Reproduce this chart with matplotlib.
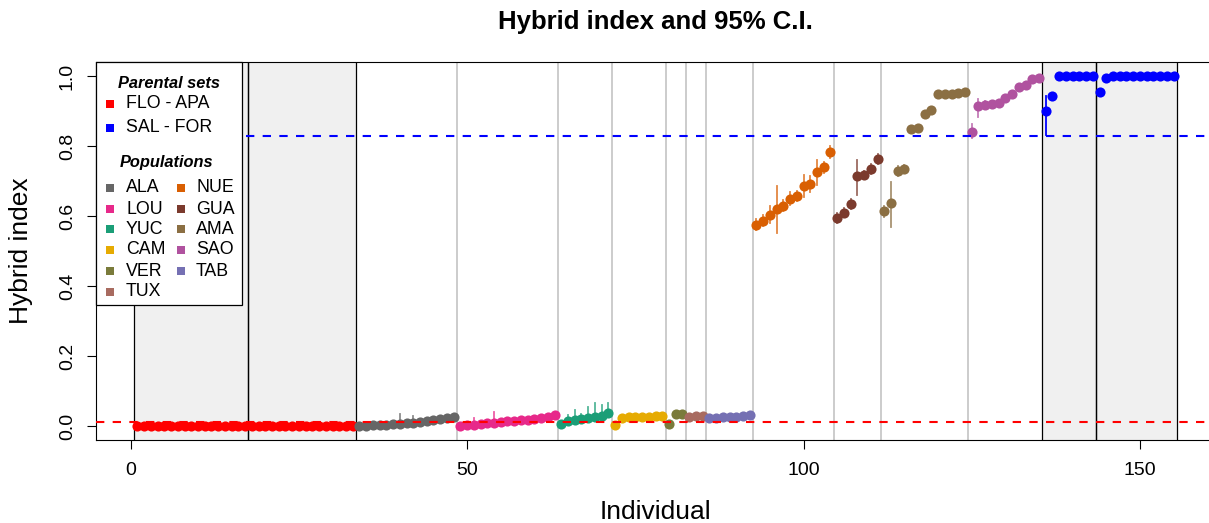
"""Hybrid index per individual with 95% C.I., parental sets and populations."""

import matplotlib
matplotlib.use('Agg')
import matplotlib.pyplot as plt
import numpy as np
from matplotlib.patches import Rectangle

plt.rcParams['font.family'] = ['Liberation Sans', 'DejaVu Sans']

# Parental sets (left block and right block)
flo_values = [0.000, 0.000, 0.000, 0.000, 0.000, 0.000, 0.000, 0.000, 0.000,
              0.000, 0.000, 0.000, 0.000, 0.000, 0.000, 0.000, 0.000]
apa_values = [0.000, 0.000, 0.000, 0.000, 0.000, 0.000, 0.000, 0.000,
              0.000, 0.000, 0.000, 0.000, 0.000, 0.000, 0.000, 0.000]
sal_values = [0.900, 0.944, 0.999, 0.999, 0.999, 0.999, 0.999, 0.999]
for_values = [0.953, 0.993, 0.999, 0.999, 0.999, 0.999, 0.999, 0.999,
              0.999, 0.999, 0.999, 0.999]

# Populations, in plotting order
ala_values = [0.000, 0.001, 0.002, 0.003, 0.004, 0.005, 0.006, 0.008,
              0.010, 0.012, 0.015, 0.017, 0.019, 0.022, 0.026]
lou_values = [0.001, 0.002, 0.004, 0.006, 0.008, 0.009, 0.011, 0.013,
              0.014, 0.016, 0.018, 0.021, 0.024, 0.027, 0.032]
yuc_values = [0.005, 0.013, 0.016, 0.019, 0.022, 0.025, 0.030, 0.037]
cam_values = [0.003, 0.024, 0.025, 0.026, 0.027, 0.027, 0.028, 0.029]
ver_values = [0.005, 0.033, 0.034]
tux_values = [0.027, 0.028, 0.030]
tab_values = [0.024, 0.024, 0.025, 0.026, 0.027, 0.030, 0.032]
nue_values = [0.575, 0.587, 0.604, 0.620, 0.630, 0.650, 0.657, 0.685,
              0.691, 0.727, 0.739, 0.783]
gua_values = [0.594, 0.608, 0.634, 0.713, 0.717, 0.734, 0.764]
ama_values = [0.613, 0.636, 0.729, 0.734, 0.848, 0.851, 0.891, 0.902,
              0.948, 0.949, 0.950, 0.951, 0.954]
sao_values = [0.841, 0.913, 0.917, 0.920, 0.924, 0.937, 0.950, 0.970,
              0.974, 0.991, 0.995]

pop_names = ['ALA', 'LOU', 'YUC', 'CAM', 'VER', 'TUX', 'TAB', 'NUE', 'GUA', 'AMA', 'SAO']
pop_values = [ala_values, lou_values, yuc_values, cam_values, ver_values, tux_values,
              tab_values, nue_values, gua_values, ama_values, sao_values]
pop_colors = {
    'ALA': '#666666', 'LOU': '#E7298A', 'YUC': '#1B9E77', 'CAM': '#E6AB02',
    'VER': '#7A7B3B', 'TUX': '#A86B60', 'NUE': '#D95F02', 'GUA': '#7B3A2D',
    'AMA': '#8B6F43', 'SAO': '#B0529F', 'TAB': '#7570B3',
}
legend_col1 = ['ALA', 'LOU', 'YUC', 'CAM', 'VER', 'TUX']
legend_col2 = ['NUE', 'GUA', 'AMA', 'SAO', 'TAB']

# 95% C.I. where wider than the point itself (individual -> (lower, upper))
ci_bounds = {
    40: (0.002, 0.034), 42: (0.004, 0.028),
    51: (0.002, 0.024), 54: (0.004, 0.041),
    65: (0.006, 0.031), 66: (0.008, 0.046), 67: (0.012, 0.034), 68: (0.014, 0.054),
    69: (0.016, 0.065), 70: (0.020, 0.060), 71: (0.026, 0.066),
    93: (0.560, 0.592), 94: (0.572, 0.603), 95: (0.580, 0.628), 96: (0.552, 0.685),
    97: (0.615, 0.645), 98: (0.632, 0.670), 99: (0.642, 0.672), 100: (0.653, 0.717),
    101: (0.668, 0.715), 102: (0.689, 0.760), 103: (0.724, 0.754), 104: (0.765, 0.800),
    105: (0.580, 0.610), 106: (0.596, 0.622), 107: (0.620, 0.648), 108: (0.660, 0.761),
    109: (0.705, 0.730), 110: (0.720, 0.748), 111: (0.750, 0.778),
    112: (0.598, 0.628), 113: (0.568, 0.696), 114: (0.715, 0.742), 115: (0.722, 0.745),
    125: (0.822, 0.862), 126: (0.884, 0.934), 127: (0.905, 0.930),
    136: (0.832, 0.943),
}

flo_apa_threshold = 0.012
sal_for_threshold = 0.829

red = '#FF0000'
blue = '#0000FF'

# Sequence of blocks along the x axis
blocks = ([('FLO', flo_values, red, 'parent'), ('APA', apa_values, red, 'parent')]
          + [(n, v, pop_colors[n], 'pop') for n, v in zip(pop_names, pop_values)]
          + [('SAL', sal_values, blue, 'parent'), ('FOR', for_values, blue, 'parent')])

fig = plt.figure(figsize=(12.09, 5.23), dpi=100)
ax = fig.add_axes([96 / 1209, 83 / 523, 1119 / 1209, 378 / 523])

start = 1
prev_kind = None
for name, values, color, kind in blocks:
    x = np.arange(start, start + len(values))
    left = start - 0.5
    right = start + len(values) - 0.5
    if kind == 'parent':
        ax.add_patch(Rectangle((left, -1), right - left, 3, facecolor='#F0F0F0',
                               edgecolor='none', zorder=0))
        ax.axvline(left, color='black', lw=0.9, zorder=1.5)
        ax.axvline(right, color='black', lw=0.9, zorder=1.5)
    elif prev_kind == 'pop':
        ax.axvline(left, color='#C8C8C8', lw=1.3, zorder=1)

    for xi in x:
        if xi in ci_bounds:
            lo, hi = ci_bounds[xi]
            ax.plot([xi, xi], [lo, hi], color=color, lw=1.3,
                    alpha=0.75 if kind == 'pop' else 1.0, zorder=2)
    ax.plot(x, values, 'o', color=color, markersize=7.3, markeredgewidth=0, zorder=3)

    start += len(values)
    prev_kind = kind

ax.axhline(flo_apa_threshold, color=red, lw=1.5, dashes=(4, 4), zorder=4)
ax.axhline(sal_for_threshold, color=blue, lw=1.5, dashes=(4, 4), zorder=4)

n_total = start - 1
pad = 0.04 * (n_total - 1)
ax.set_xlim(1 - pad, n_total + pad)
ax.set_ylim(-0.04, 1.04)

ax.set_xticks([0, 50, 100, 150])
ax.set_yticks(np.arange(0, 1.01, 0.2))
ax.set_yticklabels([f'{v:.1f}' for v in np.arange(0, 1.01, 0.2)], rotation=90, va='center')
ax.tick_params(direction='out', length=6.5, width=0.8, labelsize=14)
ax.tick_params(axis='x', pad=9)
ax.tick_params(axis='y', pad=8)
for spine in ax.spines.values():
    spine.set_linewidth(0.8)

ax.set_title('Hybrid index and 95% C.I.', fontsize=18.5, fontweight='bold', pad=24)
ax.set_xlabel('Individual', fontsize=19)
ax.xaxis.set_label_coords(0.5, -0.158)
ax.set_ylabel('Hybrid index', fontsize=19)
ax.yaxis.set_label_coords(-0.056, 0.5)

# Legend box drawn by hand: two headed sections, populations in two columns
def px(x, y):
    return (x - 96) / 1119, (440 - y) / 378

ax.add_patch(Rectangle((0, px(0, 305)[1]), px(242, 0)[0], 1 - px(0, 305)[1],
                       transform=ax.transAxes, facecolor='white', edgecolor='black',
                       lw=0.9, zorder=10, clip_on=False))

def legend_entry(sx, tx, y, label, color):
    ax.plot(*px(sx, y), 's', color=color, markersize=6.3, markeredgewidth=0,
            transform=ax.transAxes, zorder=11, clip_on=False)
    ax.text(*px(tx, y), label, transform=ax.transAxes, fontsize=12.8,
            ha='left', va='center', zorder=11)

ax.text(*px(169, 83), 'Parental sets', transform=ax.transAxes, fontsize=11.8,
        fontweight='bold', fontstyle='italic', ha='center', va='center', zorder=11)
legend_entry(110, 126, 104, 'FLO - APA', red)
legend_entry(110, 126, 128, 'SAL - FOR', blue)
ax.text(*px(167, 163), 'Populations', transform=ax.transAxes, fontsize=11.8,
        fontweight='bold', fontstyle='italic', ha='center', va='center', zorder=11)
row_y = [188, 209, 229, 250, 271, 292]
for name, y in zip(legend_col1, row_y):
    legend_entry(110, 126, y, name, pop_colors[name])
for name, y in zip(legend_col2, row_y):
    legend_entry(181, 196, y, name, pop_colors[name])

fig.savefig('out.png', dpi=100)
